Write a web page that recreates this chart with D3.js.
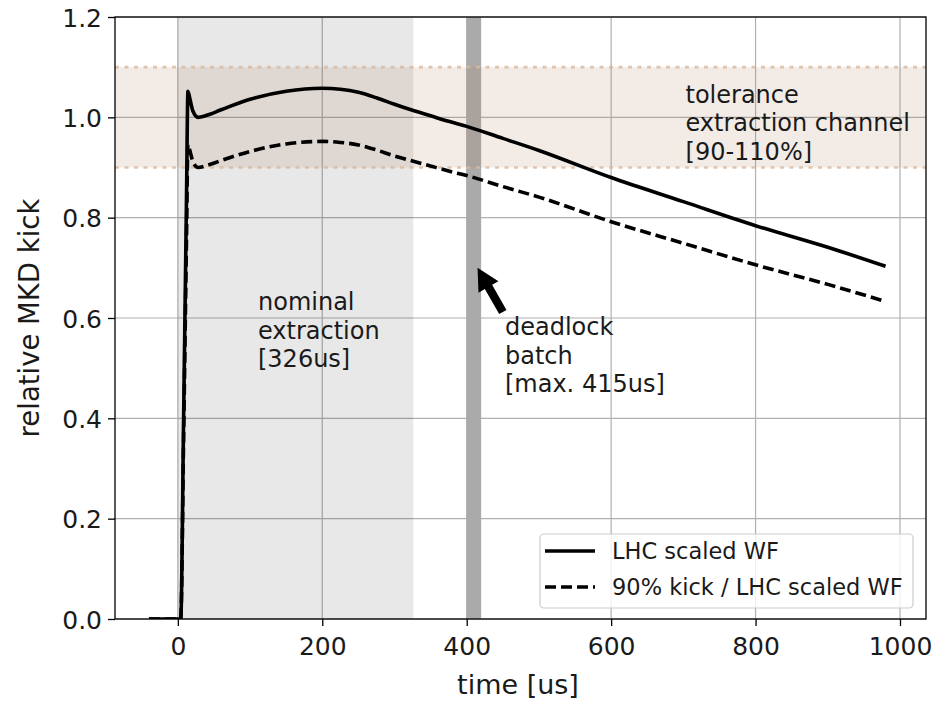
<!DOCTYPE html>
<html>
<head>
<meta charset="utf-8">
<script src="https://cdn.jsdelivr.net/npm/d3@7"></script>
<style>
  html, body { margin: 0; padding: 0; background: #ffffff; }
  svg { display: block; font-family: "DejaVu Sans", sans-serif; }
</style>
</head>
<body>
<svg id="chart" width="940" height="706"></svg>
<script>
// ---------------- data ----------------
const timeUs = [-40, 4, 8, 12, 14, 17, 21, 28, 40, 60, 100, 150, 200, 225, 250, 275, 300, 325, 350, 375, 400, 450, 500, 600, 700, 800, 900, 980];
const lhcScaledWF = [0, 0, 0.40, 0.84, 1.052, 1.035, 1.012, 1.0, 1.004, 1.015, 1.036, 1.052, 1.058, 1.056, 1.050, 1.039, 1.026, 1.014, 1.003, 0.992, 0.982, 0.958, 0.934, 0.880, 0.832, 0.784, 0.741, 0.703];
const kick90WF = [0, 0, 0.36, 0.756, 0.947, 0.932, 0.911, 0.90, 0.904, 0.914, 0.932, 0.947, 0.952, 0.950, 0.945, 0.935, 0.923, 0.913, 0.903, 0.893, 0.884, 0.862, 0.841, 0.792, 0.749, 0.706, 0.667, 0.633];
const seriesNames = ["LHC scaled WF", "90% kick / LHC scaled WF"];
const xTicks = [0, 200, 400, 600, 800, 1000];
const yTicks = [0.0, 0.2, 0.4, 0.6, 0.8, 1.0, 1.2];
const nominalSpan = [0, 326];
const deadlockSpan = [400, 420];
const toleranceBand = [0.9, 1.1];
const arrowTip = [415, 0.70];
const arrowTail = [450, 0.612];
const annotations = [
  { t: 111, v: 0.616, lines: ["nominal", "extraction", "[326us]"] },
  { t: 453, v: 0.566, lines: ["deadlock", "batch", "[max. 415us]"] },
  { t: 703, v: 1.029, lines: ["tolerance", "extraction channel", "[90-110%]"] }
];

// ---------------- layout ----------------
const svg = d3.select("#chart");
const L = 115, R = 926, T = 17, B = 619;
const x = d3.scaleLinear().domain([-87, 1036]).range([L, R]);
const y = d3.scaleLinear().domain([0, 1.2]).range([B, T]);

svg.append("defs").append("clipPath").attr("id", "clip")
  .append("rect").attr("x", L).attr("y", T).attr("width", R - L).attr("height", B - T);

// grid
const grid = svg.append("g");
grid.selectAll(".gx").data(xTicks).join("line")
  .attr("x1", d => x(d)).attr("x2", d => x(d)).attr("y1", T).attr("y2", B)
  .attr("stroke", "#b0b0b0").attr("stroke-width", 1.2);
grid.selectAll(".gy").data(yTicks).join("line")
  .attr("x1", L).attr("x2", R).attr("y1", d => y(d)).attr("y2", d => y(d))
  .attr("stroke", "#b0b0b0").attr("stroke-width", 1.2);

const plot = svg.append("g").attr("clip-path", "url(#clip)");

// nominal extraction span
plot.append("rect")
  .attr("x", x(nominalSpan[0])).attr("width", x(nominalSpan[1]) - x(nominalSpan[0]))
  .attr("y", T).attr("height", B - T)
  .attr("fill", "#000").attr("fill-opacity", 0.09);

// deadlock span
plot.append("rect")
  .attr("x", x(deadlockSpan[0])).attr("width", x(deadlockSpan[1]) - x(deadlockSpan[0]))
  .attr("y", T).attr("height", B - T)
  .attr("fill", "#aaaaaa");

// tolerance band
plot.append("rect")
  .attr("x", L).attr("width", R - L)
  .attr("y", y(toleranceBand[1])).attr("height", y(toleranceBand[0]) - y(toleranceBand[1]))
  .attr("fill", "#a87a58").attr("fill-opacity", 0.15);
plot.selectAll(".tb").data(toleranceBand).join("line")
  .attr("x1", L).attr("x2", R).attr("y1", d => y(d)).attr("y2", d => y(d))
  .attr("stroke", "#d9b89c").attr("stroke-opacity", 0.8).attr("stroke-width", 2.6)
  .attr("stroke-dasharray", "4,5.5");

// lines
const pts1 = timeUs.map((t, i) => [t, lhcScaledWF[i]]);
const pts2 = timeUs.map((t, i) => [t, kick90WF[i]]);
const line = d3.line().x(d => x(d[0])).y(d => y(d[1])).curve(d3.curveMonotoneX);
plot.append("path").datum(pts1).attr("d", line)
  .attr("fill", "none").attr("stroke", "#000").attr("stroke-width", 3.6)
  .attr("stroke-linejoin", "round");
plot.append("path").datum(pts2).attr("d", line)
  .attr("fill", "none").attr("stroke", "#000").attr("stroke-width", 3.6)
  .attr("stroke-dasharray", "11,5");

// arrow
(function () {
  const tx = x(arrowTip[0]), ty = y(arrowTip[1]);
  const sx = x(arrowTail[0]), sy = y(arrowTail[1]);
  const dx = tx - sx, dy = ty - sy, len = Math.hypot(dx, dy);
  const ux = dx / len, uy = dy / len, nx = -uy, ny = ux;
  const hw = 4.2, hh = 11.5, hl = 22;
  const bx = tx - ux * hl, by = ty - uy * hl;
  const p = [
    [sx + nx * hw, sy + ny * hw],
    [bx + nx * hw, by + ny * hw],
    [bx + nx * hh, by + ny * hh],
    [tx, ty],
    [bx - nx * hh, by - ny * hh],
    [bx - nx * hw, by - ny * hw],
    [sx - nx * hw, sy - ny * hw]
  ];
  svg.append("polygon").attr("points", p.map(q => q.join(",")).join(" ")).attr("fill", "#000");
})();

// annotations
annotations.forEach(a => {
  const tx = svg.append("text").attr("x", x(a.t)).attr("y", y(a.v))
    .attr("font-size", 24).attr("fill", "#1a1a1a");
  a.lines.forEach((s, i) => {
    tx.append("tspan").attr("x", x(a.t)).attr("dy", i === 0 ? 0 : 28.6).text(s);
  });
});

// spines
svg.append("rect").attr("x", L).attr("y", T).attr("width", R - L).attr("height", B - T)
  .attr("fill", "none").attr("stroke", "#000").attr("stroke-width", 1.3);

// axes
const xAxis = svg.append("g").attr("transform", `translate(0,${B})`)
  .call(d3.axisBottom(x).tickValues(xTicks).tickFormat(d3.format("d")).tickSize(7).tickPadding(5));
const yAxis = svg.append("g").attr("transform", `translate(${L},0)`)
  .call(d3.axisLeft(y).tickValues(yTicks).tickFormat(d3.format(".1f")).tickSize(7).tickPadding(6));
[xAxis, yAxis].forEach(g => {
  g.select(".domain").remove();
  g.selectAll(".tick line").attr("stroke", "#000").attr("stroke-width", 1.3);
  g.selectAll(".tick text").attr("font-size", 25).attr("fill", "#1a1a1a")
    .attr("font-family", "DejaVu Sans, sans-serif");
});
xAxis.selectAll(".tick text").attr("dy", "0.95em");
yAxis.selectAll(".tick text").attr("dy", "0.36em");

svg.append("text").attr("x", 518).attr("y", 694).attr("text-anchor", "middle")
  .attr("font-size", 27).attr("fill", "#1a1a1a").text("time [us]");
svg.append("text").attr("transform", `translate(39,${(T + B) / 2}) rotate(-90)`)
  .attr("text-anchor", "middle").attr("font-size", 27.5).attr("fill", "#1a1a1a").text("relative MKD kick");

// legend
const lg = svg.append("g");
lg.append("rect").attr("x", 540).attr("y", 534).attr("width", 373).attr("height", 74)
  .attr("rx", 4).attr("fill", "#fff").attr("fill-opacity", 0.8)
  .attr("stroke", "#cccccc").attr("stroke-width", 1.2);
seriesNames.forEach((name, i) => {
  const yy = 551 + i * 36;
  lg.append("line").attr("x1", 545).attr("x2", 595).attr("y1", yy).attr("y2", yy)
    .attr("stroke", "#000").attr("stroke-width", 3.6)
    .attr("stroke-dasharray", i === 1 ? "11,5" : null);
  lg.append("text").attr("x", 612).attr("y", yy + 8).attr("font-size", 22.5)
    .attr("fill", "#1a1a1a").text(name);
});
</script>
</body>
</html>
